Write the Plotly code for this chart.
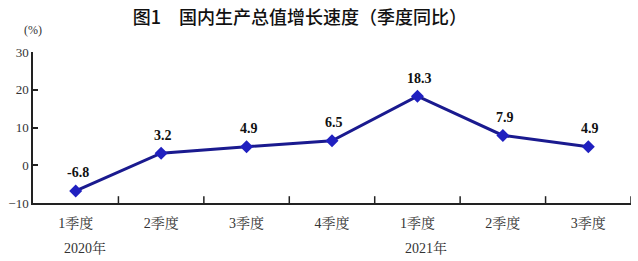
import plotly.graph_objects as go

tick_labels = ["1季度", "2季度", "3季度", "4季度", "1季度", "2季度", "3季度"]
values = [-6.8, 3.2, 4.9, 6.5, 18.3, 7.9, 4.9]
value_labels = ["-6.8", "3.2", "4.9", "6.5", "18.3", "7.9", "4.9"]
year_labels = ["2020年", "2021年"]
year_positions = [0, 4]
y_ticks = [-10, 0, 10, 20, 30]

serif = "Liberation Serif, Noto Serif CJK SC, Noto Sans CJK SC, serif"

fig = go.Figure()
fig.add_trace(go.Scatter(
    x=list(range(len(values))), y=values, mode="lines+markers",
    line=dict(color="#1a1a8f", width=3),
    marker=dict(symbol="diamond", size=10, color="#2020c0", line=dict(width=0)),
    hoverinfo="skip", showlegend=False,
))

for i, (v, t) in enumerate(zip(values, value_labels)):
    fig.add_annotation(x=i, y=v, text="<b>%s</b>" % t, showarrow=False,
                       yshift=18, xshift=2,
                       font=dict(family=serif, size=14, color="#111111"))

for p, t in zip(year_positions, year_labels):
    fig.add_annotation(x=p, y=0, yref="paper", text=t, showarrow=False,
                       yshift=-45, xshift=9, yanchor="middle",
                       font=dict(family=serif, size=14, color="#333333"))

fig.add_annotation(x=0, y=1, xref="paper", yref="paper", text="(%)", showarrow=False,
                   xshift=0, yshift=22, xanchor="center", yanchor="middle",
                   font=dict(family=serif, size=12, color="#333333"))

fig.update_layout(
    width=638, height=261,
    margin=dict(l=33, r=7, t=52, b=58),
    paper_bgcolor="white", plot_bgcolor="white",
    title=dict(text="图1　国内生产总值增长速度（季度同比）", x=300 / 638, xanchor="center",
               y=1 - 18 / 261, yanchor="middle",
               font=dict(family="Noto Sans CJK SC", size=18, color="#111111", weight=500)),
    xaxis=dict(range=[-0.5, 6.5], tickmode="array", tickvals=list(range(7)),
               ticktext=tick_labels, showgrid=False, zeroline=False,
               showline=True, linecolor="#222222", linewidth=1.5,
               ticks="", ticklabelstandoff=6,
               tickfont=dict(family=serif, size=14, color="#333333")),
    yaxis=dict(range=[-10, 30], tickvals=y_ticks, showgrid=False,
               zeroline=False, showline=True, linecolor="#222222", linewidth=1.5,
               ticks="inside", ticklen=5, tickwidth=1.5, tickcolor="#222222",
               tickfont=dict(family=serif, size=13, color="#333333")),
)

# x ticks at category boundaries (pointing inside)
for b in [0.5, 1.5, 2.5, 3.5, 4.5, 5.5, 6.5]:
    fig.add_shape(type="line", x0=b, x1=b, y0=0, y1=0.045, xref="x", yref="paper",
                  line=dict(color="#222222", width=1.5))

fig.write_html("out.html")
